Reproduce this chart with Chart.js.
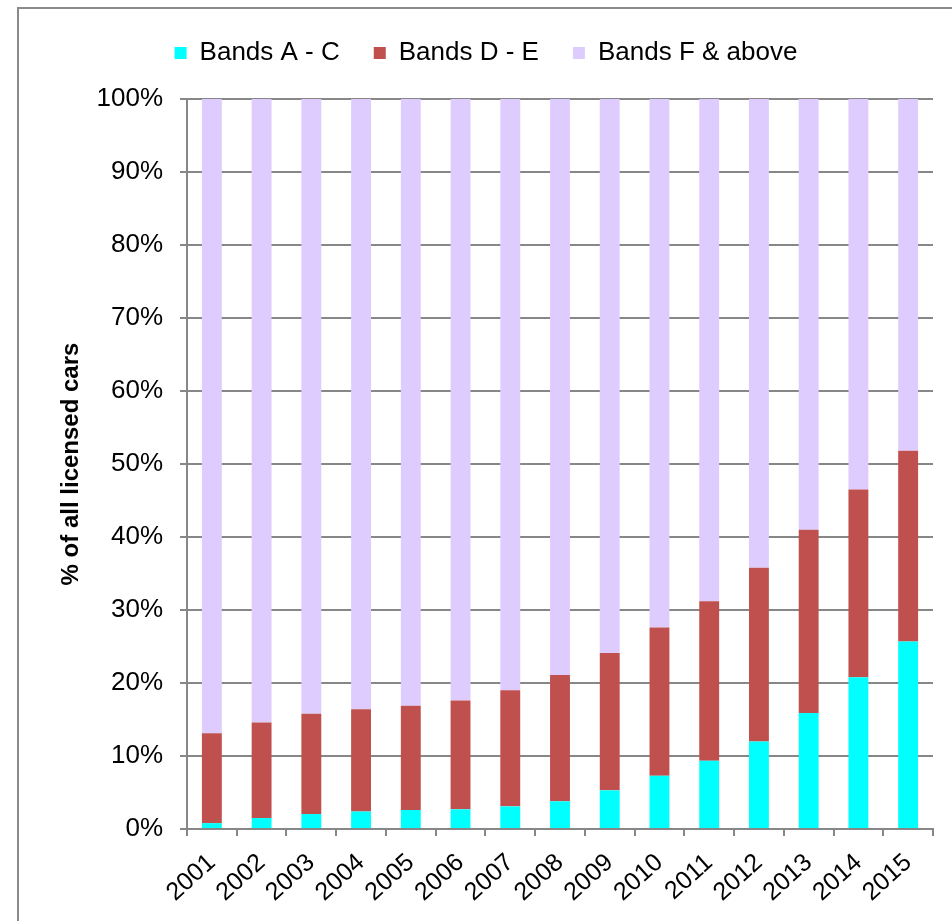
<!DOCTYPE html>
<html>
<head>
<meta charset="utf-8">
<script src="https://cdn.jsdelivr.net/npm/chart.js@4"></script>
<style>
  html, body { margin: 0; padding: 0; background: #fff; }
  #wrap { position: relative; width: 952px; height: 921px; }
  #frame { position: absolute; left: 17px; top: 7px; right: -10px; bottom: -10px;
           border-left: 2px solid #8a8a8a; border-top: 2px solid #8a8a8a; }
  #chart { position: absolute; left: 0; top: 0; }
</style>
</head>
<body>
<div id="wrap">
  <div id="frame"></div>
  <canvas id="chart" width="952" height="921"></canvas>
</div>
<script>
const years = ["2001","2002","2003","2004","2005","2006","2007","2008","2009","2010","2011","2012","2013","2014","2015"];
const bandsAC = [0.8, 1.5, 2.05, 2.4, 2.6, 2.7, 3.1, 3.8, 5.3, 7.3, 9.35, 12.0, 15.9, 20.8, 25.7];
const bandsDE = [12.3, 13.1, 13.75, 14.0, 14.3, 14.9, 15.9, 17.3, 18.8, 20.3, 21.85, 23.8, 25.1, 25.7, 26.1];
const bandsF  = [86.9, 85.4, 84.2, 83.6, 83.1, 82.4, 81.0, 78.9, 75.9, 72.4, 68.8, 64.2, 59.0, 53.5, 48.2];
const yTicks = [0, 10, 20, 30, 40, 50, 60, 70, 80, 90, 100];

const FONT = "'Liberation Sans', Arial, sans-serif";
const GRID = "#878787";

new Chart(document.getElementById("chart"), {
  type: "bar",
  data: {
    labels: years,
    datasets: [
      { label: "Bands A - C", data: bandsAC, backgroundColor: "#00ffff", borderWidth: 0 },
      { label: "Bands D - E", data: bandsDE, backgroundColor: "#c0504d", borderWidth: 0 },
      { label: "Bands F & above", data: bandsF, backgroundColor: "#dfccfe", borderWidth: 0 }
    ]
  },
  options: {
    responsive: false,
    animation: false,
    barPercentage: 0.4,
    categoryPercentage: 1.0,
    layout: { padding: { left: 39, right: 19, top: 6, bottom: 0 } },
    plugins: {
      legend: {
        position: "top",
        labels: {
          boxWidth: 12, boxHeight: 12, padding: 34,
          color: "#000", font: { family: FONT, size: 26 }
        }
      },
      // empty title used only as a spacer between legend and plot
      title: {
        display: true, text: " ", weight: 500, padding: 0,
        font: { size: 10, lineHeight: 2.3 }
      },
      tooltip: { enabled: false }
    },
    scales: {
      x: {
        stacked: true,
        afterFit: s => { s.height = 92; },
        grid: { drawOnChartArea: false, drawTicks: true, tickLength: 7, color: GRID, lineWidth: 2, offset: true },
        border: { color: GRID, width: 2 },
        ticks: {
          autoSkip: false, minRotation: 42, maxRotation: 42, padding: 12,
          color: "#000", font: { family: FONT, size: 25 }
        }
      },
      y: {
        stacked: true, min: 0, max: 100,
        afterFit: s => { s.width = 148; },
        afterBuildTicks: s => { s.ticks = yTicks.map(v => ({ value: v })); },
        grid: { color: GRID, lineWidth: 2, tickLength: 7 },
        border: { color: GRID, width: 2 },
        ticks: {
          padding: 17, color: "#000",
          font: { family: FONT, size: 26 },
          callback: v => v + "%"
        },
        title: {
          display: true, text: "% of all licensed cars", color: "#000",
          font: { family: FONT, size: 24, weight: "bold", lineHeight: 1.2 },
          padding: { top: 18 }
        }
      }
    }
  }
});
</script>
</body>
</html>
